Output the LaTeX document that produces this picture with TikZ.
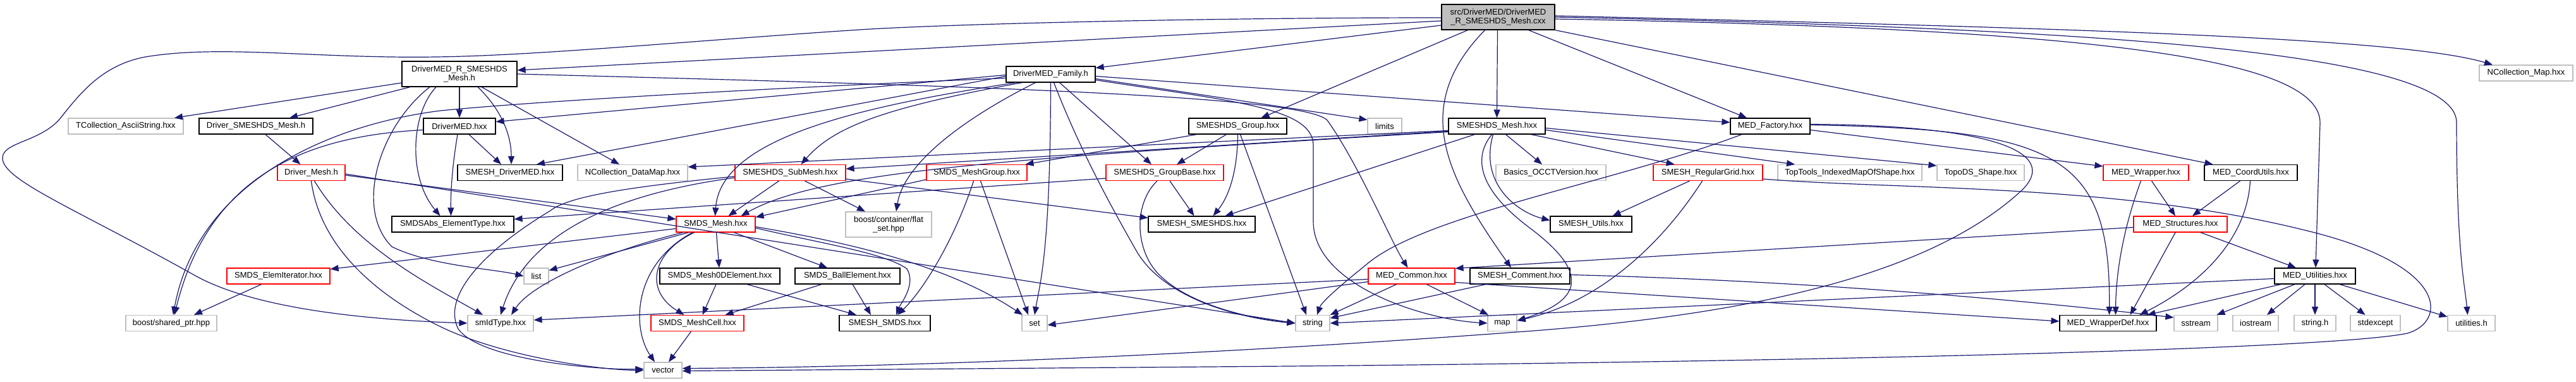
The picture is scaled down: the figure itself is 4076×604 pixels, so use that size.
\documentclass[tikz,border=0pt]{standalone}
\usepackage{fontspec}
\setmainfont{Liberation Sans}
\usetikzlibrary{arrows.meta}
\definecolor{edgec}{HTML}{191970}
\definecolor{grayb}{HTML}{BFBFBF}
\begin{document}
\begin{tikzpicture}[x=1pt,y=-1pt,
  font=\fontsize{13}{13.4}\selectfont,
  nbox/.style={draw, line width=1.2pt, inner sep=0pt, minimum height=25pt, align=center},
  nb/.style={nbox, draw=black},
  ng/.style={nbox, draw=grayb},
  nr/.style={nbox, draw=red},
  nroot/.style={nbox, draw=black, fill=grayb, minimum height=40pt},
  twoline/.style={minimum height=40pt},
  edg/.style={draw=edgec, line width=1.2pt, -{Triangle[length=13pt,width=10pt]}},
]
\useasboundingbox (0,0) rectangle (4076,604);
% ---------- nodes ----------
\node[nroot,minimum width=179pt] (root) at (2370.5,27) {src/DriverMED/DriverMED\\\_R\_SMESHDS\_Mesh.cxx};
\node[nb,twoline,minimum width=182pt] (drvrh) at (727,117) {DriverMED\_R\_SMESHDS\\\_Mesh.h};
\node[nb,minimum width=141pt] (family) at (1662.5,117.5) {DriverMED\_Family.h};
\node[ng,minimum width=148pt] (ncmap) at (3997,115.5) {NCollection\_Map.hxx};
% row 2
\node[ng,minimum width=182pt] (tcascii) at (199,199.5) {TCollection\_AsciiString.hxx};
\node[nb,minimum width=180pt] (drvsm) at (405,199.5) {Driver\_SMESHDS\_Mesh.h};
\node[nb,minimum width=114pt] (drivermed) at (727,199.5) {DriverMED.hxx};
\node[ng,minimum width=54pt] (limits) at (2191,199.5) {limits};
\node[nb,minimum width=155pt] (group) at (1958.5,199.5) {SMESHDS\_Group.hxx};
\node[nb,minimum width=153pt] (smeshdsmesh) at (2368.5,199.5) {SMESHDS\_Mesh.hxx};
\node[nb,minimum width=126pt] (medfactory) at (2801,199.5) {MED\_Factory.hxx};
% row 3
\node[nr,minimum width=107pt] (drivermesh) at (492.5,273) {Driver\_Mesh.h};
\node[nb,minimum width=166pt] (smeshdrivermed) at (807,273) {SMESH\_DriverMED.hxx};
\node[ng,minimum width=174pt] (ncdatamap) at (1001,273) {NCollection\_DataMap.hxx};
\node[nr,minimum width=175pt] (submesh) at (1250.5,273) {SMESHDS\_SubMesh.hxx};
\node[nr,minimum width=159pt] (meshgroup) at (1545.5,273) {SMDS\_MeshGroup.hxx};
\node[nr,minimum width=186pt] (groupbase) at (1843,273) {SMESHDS\_GroupBase.hxx};
\node[ng,minimum width=174pt] (occt) at (2454,273) {Basics\_OCCTVersion.hxx};
\node[nr,minimum width=173pt] (reggrid) at (2702.5,273) {SMESH\_RegularGrid.hxx};
\node[ng,minimum width=228pt] (toptools) at (2927,273) {TopTools\_IndexedMapOfShape.hxx};
\node[ng,minimum width=138pt] (topods) at (3134,273) {TopoDS\_Shape.hxx};
\node[nr,minimum width=135pt] (medwrapper) at (3395.5,273) {MED\_Wrapper.hxx};
\node[nb,minimum width=147pt] (coordutils) at (3561.5,273) {MED\_CoordUtils.hxx};
% row 4
\node[nb,minimum width=193pt] (smdsabs) at (716.5,354.5) {SMDSAbs\_ElementType.hxx};
\node[nr,minimum width=125pt] (smdsmesh) at (1132.5,354.5) {SMDS\_Mesh.hxx};
\node[ng,twoline,minimum width=136pt] (flatset) at (1406,355) {boost/container/flat\\\_set.hpp};
\node[nb,minimum width=169pt] (smeshsmeshds) at (1901.5,354.5) {SMESH\_SMESHDS.hxx};
\node[nb,minimum width=129pt] (smeshutils) at (2517.5,354.5) {SMESH\_Utils.hxx};
\node[nr,minimum width=148pt] (medstruct) at (3450,354.5) {MED\_Structures.hxx};
% row 5
\node[nr,minimum width=163pt] (elemiter) at (440.5,436.5) {SMDS\_ElemIterator.hxx};
\node[ng,minimum width=39pt] (list) at (848.5,436.5) {list};
\node[nb,minimum width=190pt] (mesh0d) at (1139,436.5) {SMDS\_Mesh0DElement.hxx};
\node[nb,minimum width=166pt] (ball) at (1341,436.5) {SMDS\_BallElement.hxx};
\node[nr,minimum width=137pt] (medcommon) at (2233.5,436.5) {MED\_Common.hxx};
\node[nb,minimum width=158pt] (comment) at (2405,436.5) {SMESH\_Comment.hxx};
\node[nb,minimum width=128pt] (medutil) at (3663,436.5) {MED\_Utilities.hxx};
% row 6
\node[ng,minimum width=144pt] (sharedptr) at (271,511) {boost/shared\_ptr.hpp};
\node[ng,minimum width=104pt] (smidtype) at (792,511) {smIdType.hxx};
\node[nr,minimum width=147pt] (meshcell) at (1103.5,511) {SMDS\_MeshCell.hxx};
\node[nb,minimum width=144pt] (smeshsmds) at (1400,511) {SMESH\_SMDS.hxx};
\node[ng,minimum width=40pt] (set) at (1637,511) {set};
\node[ng,minimum width=54pt] (string) at (2077,511) {string};
\node[ng,minimum width=46pt] (map) at (2377,511) {map};
\node[nb,minimum width=153pt] (wrapperdef) at (3335.5,511) {MED\_WrapperDef.hxx};
\node[ng,minimum width=69pt] (sstream) at (3474.5,511) {sstream};
\node[ng,minimum width=72pt] (iostream) at (3569,511) {iostream};
\node[ng,minimum width=66pt] (stringh) at (3663,511) {string.h};
\node[ng,minimum width=79pt] (stdexcept) at (3758.5,511) {stdexcept};
\node[ng,minimum width=75pt] (utilh) at (3910.5,511) {utilities.h};
% row 7
\node[ng,minimum width=60pt] (vector) at (1049,585.5) {vector};
% ---------- edges ----------
% root
\draw[edg] ([yshift=-6pt]root.west) -- ([yshift=6pt]drvrh.east);
\draw[edg] ([yshift=-13pt]root.west) -- ([yshift=-3pt]family.north east);
\draw[edg] ([yshift=-1pt]root.west) .. controls (1900,28) and (1500,38) .. (1360,47)
  .. controls (1100,64) and (850,88) .. (690,90)
  .. controls (500,93) and (350,70) .. (230,90)
  .. controls (160,103) and (125,150) .. (93,190)
  .. controls (60,225) and (4,225) .. (4,250)
  .. controls (4,285) and (120,330) .. (311,437)
  .. controls (400,485) and (560,505) .. (smidtype.west);
\draw[edg] ([xshift=-1pt]root.south) -- (smeshdsmesh.north);
\draw[edg] ([xshift=-48pt]root.south) -- ([xshift=37pt]group.north);
\draw[edg] ([xshift=-21pt]root.south) .. controls (2230,170) and (2290,280) .. ([xshift=-14pt]comment.north);
\draw[edg] ([xshift=48pt]root.south) -- ([xshift=-37pt]medfactory.north);
\draw[edg] (root.south east) -- ([xshift=-60pt]coordutils.north);
\draw[edg] ([yshift=-3pt]root.east) .. controls (3300,45) and (3671,90) .. (3671,194) -- ([xshift=1pt]medutil.north);
\draw[edg] (root.east) .. controls (3300,45) and (3887,80) .. (3887,194) .. controls (3887,400) and (3900,450) .. ([xshift=-6pt]utilh.north);
\draw[edg] ([yshift=2pt]root.east) .. controls (3300,45) and (3800,60) .. ([xshift=-53pt]ncmap.north);
% DriverMED_R_SMESHDS_Mesh.h
\draw[edg] ([yshift=-14pt]drvrh.west) -- ([xshift=77pt]tcascii.north);
\draw[edg] ([xshift=-78pt]drvrh.south) -- ([xshift=53pt]drvsm.north);
\draw[edg] (drvrh.south) -- (drivermed.north);
\draw[edg] ([xshift=29pt]drvrh.south) .. controls (790,170) and (809,210) .. ([xshift=2pt]smeshdrivermed.north);
\draw[edg] ([xshift=35pt]drvrh.south) -- ([xshift=-21pt]ncdatamap.north);
\draw[edg] ([xshift=-37pt]drvrh.south) .. controls (650,180) and (645,280) .. ([xshift=-20pt]smdsabs.north);
\draw[edg] ([xshift=-47pt]drvrh.south) .. controls (600,200) and (560,330) .. (620,390) .. controls (680,420) and (780,425) .. (list.west);
\draw[edg] (drvrh.east) .. controls (1500,135) and (2060,150) .. (2100,190) .. controls (2150,260) and (2200,380) .. ([xshift=-6pt]medcommon.north);
% DriverMED_Family.h
\draw[edg] ([yshift=-3pt]family.east) -- ([yshift=6pt]medfactory.west);
\draw[edg] ([yshift=-7pt]family.east) -- ([yshift=-3pt]limits.north west);
\draw[edg] ([yshift=-9pt]family.east) .. controls (1950,160) and (2078,170) .. (2078,230) -- (2078,350) .. controls (2078,450) and (2250,505) .. (map.west);
\draw[edg] ([yshift=-3pt]family.west) -- ([xshift=42pt]smeshdrivermed.north);
\draw[edg] ([yshift=-1pt]family.west) -- ([yshift=7pt]drivermed.east);
\draw[edg] ([xshift=-55pt]family.south) .. controls (1350,170) and (1140,220) .. ([xshift=-1pt]smdsmesh.north);
\draw[edg] ([xshift=-45pt]family.south) .. controls (1400,170) and (1320,200) .. ([xshift=17pt]submesh.north);
\draw[edg] ([yshift=-6pt]family.west) .. controls (1200,140) and (850,160) .. (697,175) .. controls (500,200) and (310,300) .. ([xshift=3pt]sharedptr.north);
\draw[edg] ([xshift=-24pt]family.south) .. controls (1520,190) and (1430,260) .. ([xshift=12pt]flatset.north);
\draw[edg] (family.south) .. controls (1662,400) and (1645,450) .. (set.north);
\draw[edg] ([xshift=14pt]family.south) -- ([xshift=-21pt]groupbase.north);
\draw[edg] ([xshift=5pt]family.south) .. controls (1710,240) and (1760,330) .. (1800,400) .. controls (1850,480) and (1980,505) .. (string.west);
% DriverMED.hxx
\draw[edg] ([xshift=15pt]drivermed.south) -- ([xshift=-14pt]smeshdrivermed.north);
\draw[edg] ([xshift=-3pt]drivermed.south) .. controls (716,260) and (713,300) .. ([xshift=-3pt]smdsabs.north);
\draw[edg] ([yshift=-6pt]drivermed.west) .. controls (480,215) and (330,280) .. ([xshift=5pt]sharedptr.north);
% Driver_SMESHDS_Mesh.h
\draw[edg] ([xshift=15pt]drvsm.south) -- ([xshift=-17pt]drivermesh.north);
% Driver_Mesh.h
\draw[edg] ([yshift=-4pt]drivermesh.east) -- ([yshift=8pt]smdsmesh.west);
\draw[edg] ([yshift=-2pt]drivermesh.east) -- (string.west);
\draw[edg] (drivermesh.south) .. controls (505,380) and (580,460) .. (700,518) .. controls (800,565) and (950,585) .. (vector.west);
\draw[edg] ([xshift=5pt]drivermesh.south) .. controls (560,390) and (680,450) .. ([xshift=-28pt]smidtype.north);
% SMDS_ElemIterator
\draw[edg] ([xshift=-27pt]elemiter.south) -- ([xshift=36pt]sharedptr.north);
% SMDS_Mesh.hxx
\draw[edg] ([yshift=-7pt]smdsmesh.west) -- ([yshift=11pt]elemiter.east);
\draw[edg] ([xshift=-43pt]smdsmesh.south) -- ([yshift=9pt]list.east);
\draw[edg] ([xshift=-52pt]smdsmesh.south) .. controls (950,400) and (840,450) .. ([xshift=17pt]smidtype.north);
\draw[edg] ([xshift=1pt]smdsmesh.south) -- ([xshift=-1pt]mesh0d.north);
\draw[edg] ([xshift=29pt]smdsmesh.south) -- ([xshift=-32pt]ball.north);
\draw[edg] ([xshift=-34pt]smdsmesh.south) .. controls (1030,400) and (1020,460) .. ([xshift=-21pt]meshcell.north);
\draw[edg] ([xshift=-37pt]smdsmesh.south) .. controls (1000,420) and (1000,520) .. ([xshift=-13pt]vector.north);
\draw[edg] ([yshift=-6pt]smdsmesh.east) .. controls (1300,385) and (1400,400) .. (1435,425) .. controls (1450,450) and (1425,480) .. ([xshift=18pt]smeshsmds.north);
\draw[edg] ([yshift=-4pt]smdsmesh.east) .. controls (1350,385) and (1500,420) .. ([xshift=-19pt]set.north);
% SMESHDS_SubMesh
\draw[edg] ([xshift=-18pt]submesh.south) -- ([xshift=20pt]smdsmesh.north);
\draw[edg] ([xshift=23pt]submesh.south) -- ([xshift=-37pt]flatset.north);
\draw[edg] ([yshift=-10pt]submesh.east) -- ([yshift=10pt]smeshsmeshds.west);
\draw[edg] ([yshift=-8pt]submesh.west) .. controls (950,310) and (830,380) .. (smidtype.north);
\draw[edg] ([yshift=-6pt]submesh.west) .. controls (1000,295) and (900,310) .. (871,333) .. controls (760,400) and (700,470) .. (725,520) .. controls (760,570) and (950,585) .. ([yshift=2pt]vector.west);
% SMDS_MeshGroup
\draw[edg] ([yshift=-11pt]meshgroup.west) -- ([yshift=-2pt]smdsmesh.north east);
\draw[edg] ([xshift=-5pt]meshgroup.south) .. controls (1510,380) and (1460,460) .. ([xshift=20pt]smeshsmds.north);
\draw[edg] ([xshift=6pt]meshgroup.south) -- ([xshift=-10pt]set.north);
% SMESHDS_GroupBase
\draw[edg] ([xshift=8pt]groupbase.south) -- ([xshift=-12pt]smeshsmeshds.north);
\draw[edg] ([xshift=-12pt]groupbase.south) .. controls (1795,320) and (1795,390) .. (1830,430) .. controls (1880,485) and (1990,505) .. (string.west);
\draw[edg] ([yshift=-9pt]groupbase.west) -- ([yshift=8pt]smdsabs.east);
% SMESHDS_Group
\draw[edg] ([xshift=-65pt]group.south) -- ([xshift=77pt]meshgroup.north);
\draw[edg] ([xshift=-18pt]group.south) -- ([xshift=19pt]groupbase.north);
\draw[edg] (group.south) .. controls (1958,270) and (1945,310) .. ([xshift=18pt]smeshsmeshds.north);
\draw[edg] ([xshift=4pt]group.south) -- ([xshift=-10pt]string.north);
% SMESHDS_Mesh
\draw[edg] ([yshift=-7pt]smeshdsmesh.west) -- ([yshift=9pt]ncdatamap.east);
\draw[edg] ([yshift=-8pt]smeshdsmesh.west) -- ([yshift=6pt]submesh.east);
\draw[edg] ([yshift=-9pt]smeshdsmesh.west) .. controls (1600,250) and (1300,270) .. ([xshift=40pt]smdsmesh.north);
\draw[edg] ([xshift=-35pt]smeshdsmesh.south) -- ([xshift=37pt]smeshsmeshds.north);
\draw[edg] ([xshift=-8pt]smeshdsmesh.south) .. controls (2330,250) and (2340,300) .. (2420,360) .. controls (2500,420) and (2520,470) .. ([yshift=4pt]map.east);
\draw[edg] ([xshift=-6pt]smeshdsmesh.south) .. controls (2340,290) and (2400,335) .. ([yshift=6pt]smeshutils.west);
\draw[edg] ([xshift=14pt]smeshdsmesh.south) -- ([xshift=-14pt]occt.north);
\draw[edg] ([xshift=54pt]smeshdsmesh.south) -- ([xshift=-53pt]reggrid.north);
\draw[edg] ([yshift=-6pt]smeshdsmesh.east) -- ([xshift=-87pt]toptools.north);
\draw[edg] ([yshift=-3pt]smeshdsmesh.east) -- ([yshift=-2pt]topods.north west);
% SMESH_RegularGrid
\draw[edg] ([xshift=-29pt]reggrid.south) -- ([xshift=34pt]smeshutils.north);
\draw[edg] ([xshift=-9pt]reggrid.south) .. controls (2620,400) and (2520,480) .. ([yshift=4pt]map.east);
\draw[edg] ([yshift=-10pt]reggrid.east) .. controls (3000,300) and (3350,290) .. (3647,364)
  .. controls (3880,420) and (3870,510) .. (3809,527)
  .. controls (3700,550) and (3000,570) .. (2040,579) -- ([yshift=-1pt]vector.east);
% MED_Factory
\draw[edg] ([xshift=-45pt]medfactory.south) .. controls (2550,290) and (2250,340) .. (2160,420) .. controls (2110,460) and (2090,480) .. ([xshift=7pt]string.north);
\draw[edg] ([yshift=-6pt]medfactory.east) -- ([yshift=-3pt]medwrapper.north west);
\draw[edg] ([yshift=2pt]medfactory.east) .. controls (3250,205) and (3340,240) .. ([xshift=2pt]wrapperdef.north);
\draw[edg] ([yshift=3pt]medfactory.east) .. controls (3150,198) and (3260,240) .. (3200,300)
  .. controls (3050,440) and (2750,500) .. (2400,525)
  .. controls (2000,555) and (1500,580) .. ([yshift=3pt]vector.east);
% MED_Wrapper
\draw[edg] ([xshift=-8pt]medwrapper.south) .. controls (3360,360) and (3348,430) .. ([xshift=12pt]wrapperdef.north);
\draw[edg] ([xshift=9pt]medwrapper.south) -- ([xshift=-8pt]medstruct.north);
% MED_CoordUtils
\draw[edg] ([xshift=-17pt]coordutils.south) -- ([xshift=19pt]medstruct.north);
\draw[edg] ([xshift=-1pt]coordutils.south) .. controls (3555,380) and (3480,450) .. ([xshift=50pt]wrapperdef.north);
% MED_Structures
\draw[edg] ([yshift=-5pt]medstruct.west) -- ([yshift=-1pt]medcommon.north east);
\draw[edg] ([xshift=32pt]medstruct.south) -- ([xshift=-30pt]medutil.north);
\draw[edg] ([xshift=-8pt]medstruct.south) -- ([xshift=35pt]wrapperdef.north);
% MED_Utilities
\draw[edg] ([xshift=-54pt]medutil.south) -- ([xshift=62pt]wrapperdef.north);
\draw[edg] ([xshift=-32pt]medutil.south) -- ([xshift=33pt]sstream.north);
\draw[edg] ([xshift=-16pt]medutil.south) -- ([xshift=18pt]iostream.north);
\draw[edg] (medutil.south) -- (stringh.north);
\draw[edg] ([xshift=15pt]medutil.south) -- ([xshift=-16pt]stdexcept.north);
\draw[edg] ([xshift=39pt]medutil.south) -- ([yshift=-3pt]utilh.north west);
\draw[edg] ([yshift=-4pt]medutil.west) -- (string.east);
% MED_Common
\draw[edg] ([xshift=-24pt]medcommon.south) -- (string.north east);
\draw[edg] ([xshift=24pt]medcommon.south) -- ([xshift=-22pt]map.north);
\draw[edg] ([yshift=-5pt]medcommon.west) -- ([yshift=5pt]smidtype.east);
\draw[edg] ([yshift=-9pt]medcommon.west) -- ([yshift=-3pt]set.east);
\draw[edg] ([yshift=-10pt]medcommon.east) -- ([yshift=3pt]wrapperdef.west);
% SMESH_Comment
\draw[edg] ([xshift=-54pt]comment.south) -- ([yshift=8pt]string.east);
\draw[edg] ([yshift=2pt]comment.east) .. controls (2900,445) and (3250,480) .. ([yshift=9pt]sstream.west);
% SMDS_Mesh0DElement / SMDS_BallElement / SMDS_MeshCell
\draw[edg] ([xshift=-6pt]mesh0d.south) -- ([xshift=8pt]meshcell.north);
\draw[edg] ([xshift=43pt]mesh0d.south) -- ([xshift=-45pt]smeshsmds.north);
\draw[edg] ([xshift=-41pt]ball.south) -- ([xshift=44pt]meshcell.north);
\draw[edg] ([xshift=8pt]ball.south) -- ([xshift=-22pt]smeshsmds.north);
\draw[edg] ([xshift=-10pt]meshcell.south) -- ([xshift=9pt]vector.north);
\end{tikzpicture}
\end{document}
